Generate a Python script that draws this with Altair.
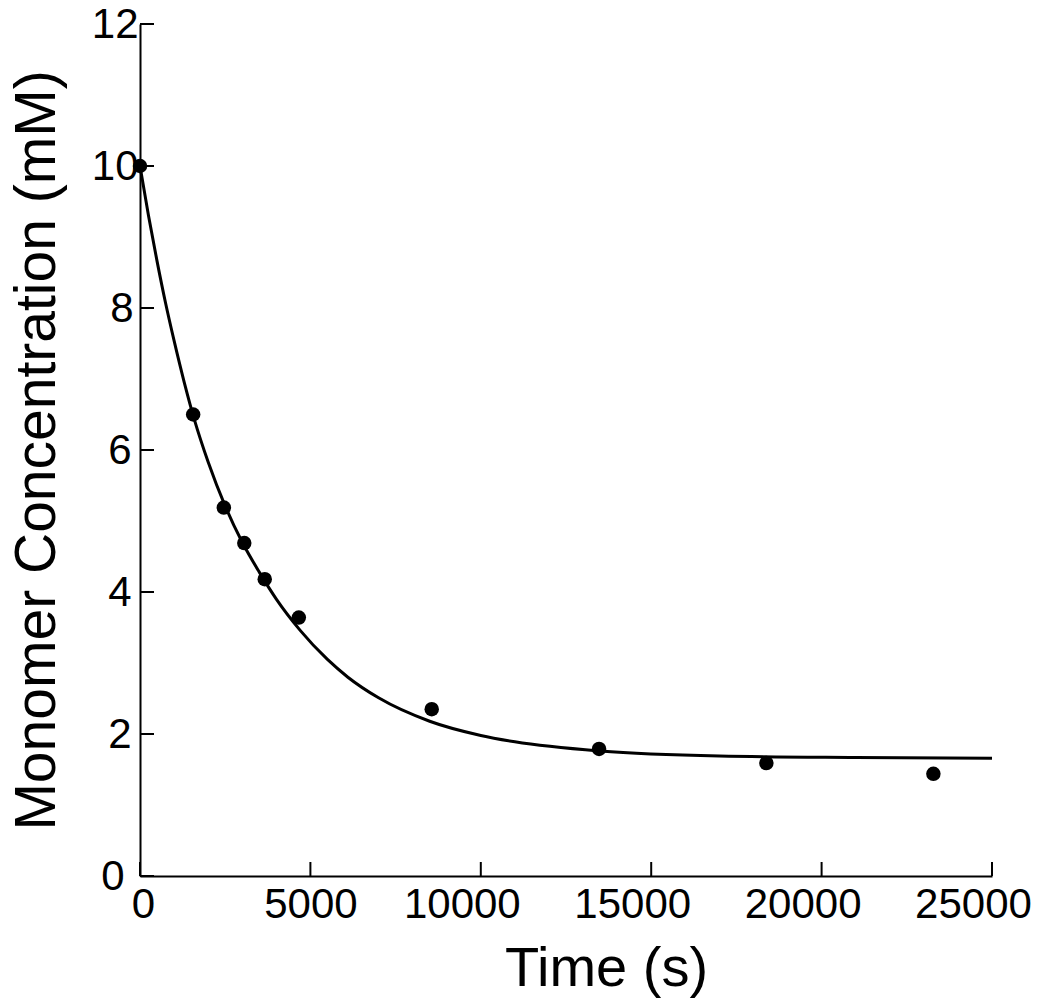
import altair as alt
import pandas as pd

# Measured data points
time_pts = [0, 1560, 2460, 3060, 3660, 4660, 8560, 13470, 18380, 23280]
conc_pts = [10.0, 6.5, 5.19, 4.69, 4.18, 3.64, 2.35, 1.79, 1.59, 1.44]

# Fitted curve
time_fit = [0, 250, 500, 750, 1000, 1300, 1600, 2000, 2500, 3000, 3500, 4000,
            4700, 5500, 6100, 7000, 8500, 10000, 11000, 13500, 17000, 21000, 25000]
conc_fit = [10.0, 9.30, 8.66, 8.07, 7.54, 6.95, 6.42, 5.83, 5.21, 4.70, 4.28, 3.90,
            3.46, 3.05, 2.80, 2.51, 2.18, 1.98, 1.89, 1.76, 1.69, 1.67, 1.66]

x_ticks = [0, 5000, 10000, 15000, 20000, 25000]
y_ticks = [0, 2, 4, 6, 8, 10, 12]

W, H = 852, 852
FONT = "Liberation Sans"

pts = pd.DataFrame({"t": time_pts, "c": conc_pts})
fit = pd.DataFrame({"t": time_fit, "c": conc_fit})
xt = pd.DataFrame({"t": x_ticks})
yt = pd.DataFrame({"c": y_ticks})

xscale = alt.Scale(domain=[0, 25000], nice=False, zero=False)
yscale = alt.Scale(domain=[0, 12], nice=False, zero=False)

xaxis = alt.Axis(values=x_ticks, format="d", ticks=False, grid=False,
                 domainColor="black", domainWidth=2,
                 labelFont=FONT, labelFontSize=42, labelColor="black", labelPadding=8,
                 labelOffset={"condition": [{"test": "datum.value >= 10000", "value": -19},
                                            {"test": "datum.value == 0", "value": 3}],
                              "value": 0},
                 labelFlush=False, labelOverlap=False,
                 title="Time (s)", titleFont=FONT, titleFontSize=56, titleFontWeight="normal",
                 titleColor="black", titleX=466, titleY=109, titleBaseline="alphabetic",
                 titleAlign="center")
yaxis = alt.Axis(values=y_ticks, format="d", ticks=False, grid=False,
                 domainColor="black", domainWidth=2,
                 labelFont=FONT, labelFontSize=42, labelColor="black",
                 labelPadding={"condition": [{"test": "datum.value >= 10", "value": 2},
                                             {"test": "datum.value == 8", "value": 7},
                                             {"test": "datum.value == 0", "value": 16}],
                               "value": 9},
                 labelFlush=False, labelOverlap=False,
                 title="Monomer Concentration (mM)", titleFont=FONT, titleFontSize=57,
                 titleFontWeight="normal", titleColor="black", titleAngle=270,
                 titleX=-86, titleY=426, titleBaseline="alphabetic", titleAlign="center")

line = alt.Chart(fit).mark_line(color="black", strokeWidth=3, interpolate="monotone").encode(
    x=alt.X("t:Q", scale=xscale, axis=xaxis),
    y=alt.Y("c:Q", scale=yscale, axis=yaxis),
)
dots = alt.Chart(pts).mark_circle(color="black", size=210, opacity=1).encode(
    x=alt.X("t:Q", scale=xscale),
    y=alt.Y("c:Q", scale=yscale),
)
xtick = alt.Chart(xt).mark_rule(color="black", strokeWidth=2).encode(
    x=alt.X("t:Q", scale=xscale),
    y=alt.value(H), y2=alt.value(H - 14),
)
ytick = alt.Chart(yt).mark_rule(color="black", strokeWidth=2).encode(
    y=alt.Y("c:Q", scale=yscale),
    x=alt.value(0), x2=alt.value(14),
)

chart = alt.layer(line, xtick, ytick, dots).properties(
    width=W, height=H,
    autosize=alt.AutoSizeParams(type="none"),
    padding={"left": 132, "top": 16, "right": 50, "bottom": 124},
).configure(background="white", view=alt.ViewConfig(strokeWidth=0, stroke=None))

chart.save("out.html", embed_options={"renderer": "svg", "actions": False})
